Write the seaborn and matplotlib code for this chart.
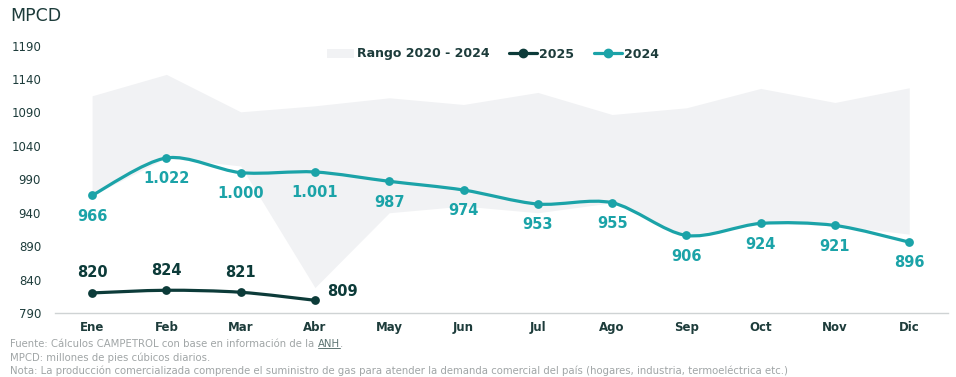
import numpy as np
import matplotlib
matplotlib.use("Agg")
import matplotlib.pyplot as plt
from matplotlib.path import Path
from matplotlib.patches import PathPatch, Patch
from matplotlib.lines import Line2D
import seaborn as sns

meses = ["Ene", "Feb", "Mar", "Abr", "May", "Jun", "Jul", "Ago", "Sep", "Oct", "Nov", "Dic"]
rango_max = [1115, 1147, 1091, 1100, 1112, 1102, 1120, 1087, 1097, 1126, 1105, 1127]
rango_min = [966, 1022, 1010, 828, 940, 950, 940, 955, 906, 924, 921, 908]
v2024 = [966, 1022, 1000, 1001, 987, 974, 953, 955, 906, 924, 921, 896]
v2025 = [820, 824, 821, 809]
yticks = [790, 840, 890, 940, 990, 1040, 1090, 1140, 1190]

C_2024 = "#1ba3a8"
C_2025 = "#0c3b39"
C_BAND = "#f1f2f4"
C_TEXT = "#1d3c3b"
C_NOTE = "#a0a5a6"

sns.set_style("white")
plt.rcParams["font.family"] = ["DejaVu Sans"]


def spline_path(xs, ys, k=0.9):
    # Catmull-Rom -> cubic Bezier path for a smooth line through the points
    p = np.column_stack([xs, ys]).astype(float)
    n = len(p)
    verts = [p[0]]
    codes = [Path.MOVETO]
    for i in range(n - 1):
        p0 = p[i - 1] if i > 0 else p[i]
        p3 = p[i + 2] if i + 2 < n else p[i + 1]
        c1 = p[i] + (p[i + 1] - p0) / 6 * k
        c2 = p[i + 1] - (p3 - p[i]) / 6 * k
        verts += [c1, c2, p[i + 1]]
        codes += [Path.CURVE4] * 3
    return Path(verts, codes)


def fmt(v):
    return f"{v:,}".replace(",", ".")


fig = plt.figure(figsize=(9.56, 3.77), dpi=100)
ax = fig.add_axes([0.0575, 0.1698, 0.934, 0.7268])

x = np.arange(len(meses))
x25 = np.arange(len(v2025))

ax.fill_between(x, rango_min, rango_max, color=C_BAND, lw=0, zorder=1)

ax.add_patch(PathPatch(spline_path(x, v2024), fill=False, edgecolor=C_2024, lw=2.3, zorder=3,
                       capstyle="round"))
ax.add_patch(PathPatch(spline_path(x25, v2025), fill=False, edgecolor=C_2025, lw=2.3, zorder=3,
                       capstyle="round"))
sns.scatterplot(x=x, y=v2024, ax=ax, color=C_2024, s=40, linewidth=0, zorder=4)
sns.scatterplot(x=x25, y=v2025, ax=ax, color=C_2025, s=40, linewidth=0, zorder=4)

# data labels
for xi, v in zip(x, v2024):
    ax.annotate(fmt(v), (xi, v), xytext=(0, -15), textcoords="offset points",
                ha="center", va="center", fontsize=10.5, fontweight="bold", color=C_2024, zorder=5)
for xi, v in zip(x25[:-1], v2025[:-1]):
    ax.annotate(fmt(v), (xi, v), xytext=(0, 14.5), textcoords="offset points",
                ha="center", va="center", fontsize=10.5, fontweight="bold", color=C_2025, zorder=5)
ax.annotate(fmt(v2025[-1]), (x25[-1], v2025[-1]), xytext=(8.5, 6.5), textcoords="offset points",
            ha="left", va="center", fontsize=10.5, fontweight="bold", color=C_2025, zorder=5)

ax.set_xlim(-0.5, 11.52)
ax.set_ylim(790, 1200)
ax.set_yticks(yticks)
ax.set_yticklabels([str(t) for t in yticks], fontsize=8.5, color=C_TEXT)
ax.set_xticks(x)
ax.set_xticklabels(meses, fontsize=8.5, fontweight="bold", color=C_TEXT)
ax.tick_params(axis="y", length=0, pad=10)
ax.tick_params(axis="x", length=0, pad=6)
for s in ["top", "right", "left"]:
    ax.spines[s].set_visible(False)
ax.spines["bottom"].set_color("#cfd3d4")
ax.spines["bottom"].set_linewidth(1)
ax.grid(False)

handles = [
    Patch(facecolor=C_BAND, edgecolor="none"),
    Line2D([], [], color=C_2025, lw=2.3, marker="o", markersize=6),
    Line2D([], [], color=C_2024, lw=2.3, marker="o", markersize=6),
]
leg = fig.legend(handles, ["Rango 2020 - 2024", "2025", "2024"], ncol=3, frameon=False,
                 loc="center", bbox_to_anchor=(493 / 956, 1 - 54 / 377),
                 handlelength=2.2, handletextpad=0.2, columnspacing=1.6,
                 prop={"size": 9, "weight": "bold"})
for t in leg.get_texts():
    t.set_color(C_TEXT)

fig.text(10 / 956, 1 - 16 / 377, "MPCD", fontsize=12.5, color=C_TEXT, ha="left", va="center")

notas = [
    "Fuente: Cálculos CAMPETROL con base en información de la ",
    "MPCD: millones de pies cúbicos diarios.",
    "Nota: La producción comercializada comprende el suministro de gas para atender la demanda comercial del país (hogares, industria, termoeléctrica etc.)",
]
textos = []
for i, n in enumerate(notas):
    textos.append(fig.text(10 / 956, 1 - (344 + 13.5 * i) / 377, n, fontsize=7.3, color=C_NOTE,
                           ha="left", va="center"))

# underlined link "ANH" after the first footnote line
fig.canvas.draw()
r = fig.canvas.get_renderer()
bb = textos[0].get_window_extent(r)
anh = fig.text(bb.x1 / 956, 1 - 344 / 377, "ANH", fontsize=7.3, color="#5d7472",
               ha="left", va="center")
bb2 = anh.get_window_extent(r)
fig.text(bb2.x1 / 956, 1 - 344 / 377, ".", fontsize=7.3, color=C_NOTE, ha="left", va="center")
fig.add_artist(Line2D([bb2.x0 / 956, bb2.x1 / 956], [(bb2.y0 + 1) / 377] * 2,
                      color="#5d7472", lw=0.7))

fig.savefig("out.png", dpi=100)
